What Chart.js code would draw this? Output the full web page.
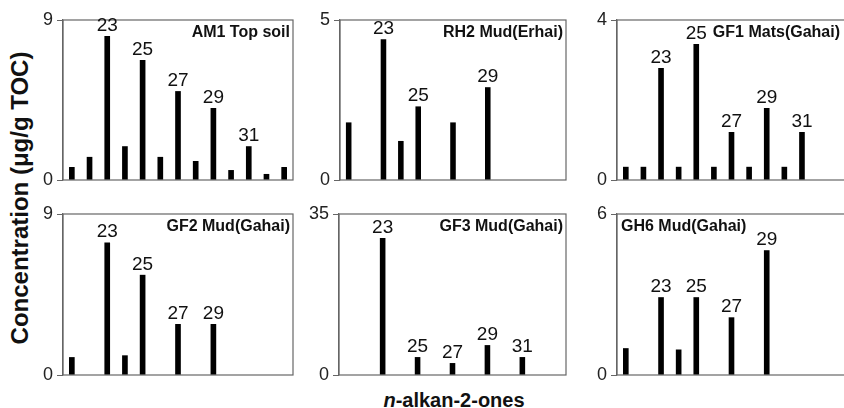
<!DOCTYPE html>
<html>
<head>
<meta charset="utf-8">
<script src="https://cdn.jsdelivr.net/npm/chart.js@4.4.1/dist/chart.umd.min.js"></script>
<style>
  html, body { margin: 0; padding: 0; background: #fff; overflow: hidden; }
  #wrap { position: relative; width: 844px; height: 408px; overflow: hidden; font-family: "Liberation Sans", Arial, sans-serif; }
  .panel { position: absolute; }
  #ytitle {
    position: absolute; left: 20px; top: 198px; white-space: nowrap;
    font-weight: bold; font-size: 24px; color: #111;
    transform: translate(-50%, -50%) rotate(-90deg);
  }
  #xtitle {
    position: absolute; left: 454px; top: 400px; white-space: nowrap;
    font-weight: bold; font-size: 20px; color: #111;
    transform: translate(-50%, -50%);
  }
</style>
</head>
<body>
<div id="wrap">
  <div id="ytitle">Concentration (μg/g TOC)</div>
  <div id="xtitle"><i>n</i>-alkan-2-ones</div>
</div>
<script>
// carbon numbers on the x axis (C21 .. C33)
const carbons = ["21", "22", "23", "24", "25", "26", "27", "28", "29", "30", "31", "32", "33"];

// concentrations
const am1 = [0.73, 1.3, 8.1, 1.9, 6.75, 1.3, 5.0, 1.07, 4.05, 0.56, 1.9, 0.34, 0.73];
const rh2 = [1.8, 0, 4.4, 1.22, 2.3, 0, 1.8, 0, 2.9, 0, 0, 0, 0];
const gf1 = [0.33, 0.33, 2.8, 0.33, 3.4, 0.33, 1.2, 0.33, 1.8, 0.33, 1.2, 0, 0];
const gf2 = [1.0, 0, 7.4, 1.1, 5.6, 0, 2.85, 0, 2.85, 0, 0, 0, 0];
const gf3 = [0, 0, 29.8, 0, 3.9, 0, 2.6, 0, 6.5, 0, 3.9, 0, 0];
const gh6 = [1.0, 0, 2.9, 0.95, 2.9, 0, 2.15, 0, 4.65, 0, 0, 0, 0];

// labelled peaks
const am1Peaks = ["23", "25", "27", "29", "31"];
const rh2Peaks = ["23", "25", "29"];
const gf1Peaks = ["23", "25", "27", "29", "31"];
const gf2Peaks = ["23", "25", "27", "29"];
const gf3Peaks = ["23", "25", "27", "29", "31"];
const gh6Peaks = ["23", "25", "27", "29"];

const sampleNames = ["AM1 Top soil", "RH2 Mud(Erhai)", "GF1 Mats(Gahai)", "GF2 Mud(Gahai)", "GF3 Mud(Gahai)", "GH6 Mud(Gahai)"];
const yMax = [9, 5, 4, 9, 35, 6];

const FONT = "'Liberation Sans', Arial, sans-serif";
const FRAME = "#666";

// plot area boxes [left, top, right, bottom]
const panels = [
  { data: am1, peaks: am1Peaks, box: [63, 20, 293, 180], titleAlign: "right" },
  { data: rh2, peaks: rh2Peaks, box: [340, 20, 566, 180], titleAlign: "right" },
  { data: gf1, peaks: gf1Peaks, box: [617, 20, 846, 180], titleAlign: "right", titleRight: 840 },
  { data: gf2, peaks: gf2Peaks, box: [63, 214, 293, 375], titleAlign: "right" },
  { data: gf3, peaks: gf3Peaks, box: [339, 214, 566, 375], titleAlign: "right" },
  { data: gh6, peaks: gh6Peaks, box: [617, 214, 846, 375], titleAlign: "left" }
];

const PAD_L = 50, PAD_T = 16, PAD_R = 4, PAD_B = 20;

const panelPlugin = {
  id: "panelDeco",
  beforeDatasetsDraw(chart) {
    const a = chart.chartArea;
    const ctx = chart.ctx;
    ctx.save();
    ctx.strokeStyle = FRAME;
    ctx.lineWidth = 1.2;
    ctx.strokeRect(a.left, a.top, a.right - a.left, a.bottom - a.top);
    ctx.restore();
  },
  afterDatasetsDraw(chart, args, opts) {
    const ctx = chart.ctx;
    const a = chart.chartArea;
    const meta = chart.getDatasetMeta(0);
    ctx.save();
    ctx.fillStyle = "#111";
    ctx.font = "19px " + FONT;
    ctx.textAlign = "center";
    ctx.textBaseline = "bottom";
    opts.peaks.forEach((p) => {
      const bar = meta.data[carbons.indexOf(p)];
      ctx.fillText(p, bar.x, bar.y - 1);
    });
    // sample name
    ctx.font = "bold 16px " + FONT;
    ctx.textBaseline = "middle";
    if (opts.align === "left") {
      ctx.textAlign = "left";
      ctx.fillText(opts.title, a.left + 4, a.top + 13);
    } else {
      ctx.textAlign = "right";
      ctx.fillText(opts.title, a.right - opts.rightGap, a.top + 13);
    }
    ctx.restore();
  }
};

const wrap = document.getElementById("wrap");

panels.forEach((p, i) => {
  const [L, T, R, B] = p.box;
  const w = R - L + PAD_L + PAD_R;
  const h = B - T + PAD_T + PAD_B;
  const div = document.createElement("div");
  div.className = "panel";
  div.style.left = (L - PAD_L) + "px";
  div.style.top = (T - PAD_T) + "px";
  div.style.width = w + "px";
  div.style.height = h + "px";
  const canvas = document.createElement("canvas");
  canvas.width = w;
  canvas.height = h;
  div.appendChild(canvas);
  wrap.appendChild(div);

  new Chart(canvas.getContext("2d"), {
    type: "bar",
    data: {
      labels: carbons,
      datasets: [{
        data: p.data,
        backgroundColor: "#000",
        borderWidth: 0,
        barPercentage: 0.32,
        categoryPercentage: 1
      }]
    },
    options: {
      responsive: false,
      animation: false,
      layout: { padding: { top: PAD_T, right: PAD_R, bottom: PAD_B, left: 0 } },
      plugins: {
        legend: { display: false },
        tooltip: { enabled: false },
        panelDeco: {
          peaks: p.peaks,
          title: sampleNames[i],
          align: p.titleAlign,
          rightGap: p.titleRight ? (R - p.titleRight) : 3
        }
      },
      scales: {
        x: { display: false },
        y: {
          min: 0,
          max: yMax[i],
          afterBuildTicks(axis) {
            axis.ticks = [{ value: 0 }, { value: yMax[i] }];
          },
          afterFit(axis) { axis.width = PAD_L; },
          grid: { drawOnChartArea: false, drawTicks: true, tickLength: 6, color: FRAME },
          border: { display: true, color: FRAME, width: 1.2 },
          ticks: { padding: 4, color: "#222", font: { size: 18, family: FONT } }
        }
      }
    },
    plugins: [panelPlugin]
  });
});
</script>
</body>
</html>
